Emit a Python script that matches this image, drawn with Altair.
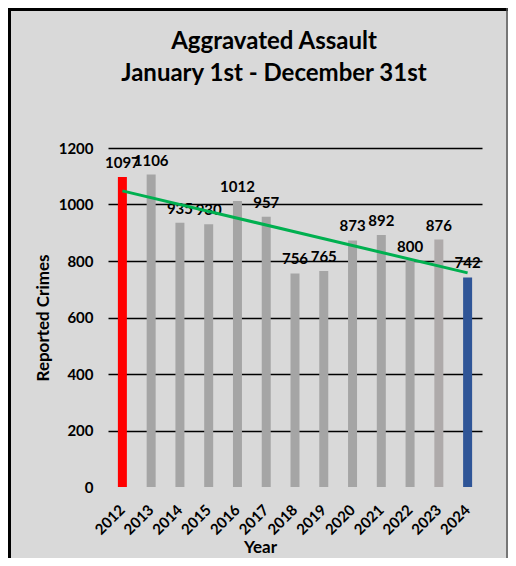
import altair as alt
import pandas as pd

years = [2012, 2013, 2014, 2015, 2016, 2017, 2018, 2019, 2020, 2021, 2022, 2023, 2024]
crimes = [1097, 1106, 935, 930, 1012, 957, 756, 765, 873, 892, 800, 876, 742]
bar_colors = ["#ff0000"] + ["#a5a5a5"] * 10 + ["#aeaaaa", "#2f5597"]
title_lines = ["Aggravated Assault", "January 1st - December 31st"]
y_ticks = [0, 200, 400, 600, 800, 1000, 1200]

df = pd.DataFrame({"Year": years, "Crimes": crimes})

FONT = "Lato"
W, H = 374, 339
PAD_L, PAD_T, PAD_R, PAD_B = 100, 140, 26, 71

x_enc = alt.X("Year:O", title="Year",
              scale=alt.Scale(paddingInner=0, paddingOuter=0),
              axis=alt.Axis(labelAngle=-45, labelAlign="right", labelBaseline="middle",
                            labelPadding=20, ticks=False, domain=False,
                            titleX=152, titleY=52, titleAlign="center",
                            titleBaseline="top"))
y_enc = alt.Y("Crimes:Q", title="Reported Crimes",
              scale=alt.Scale(domain=[0, 1200], nice=False),
              axis=alt.Axis(values=y_ticks, format="d", ticks=False, domain=False, labelPadding=15,
                            gridColor="black", gridWidth=1.5,
                            gridOpacity=alt.condition(alt.datum.value == 0, alt.value(0), alt.value(1)),
                            titlePadding=6))

base = alt.Chart(df)

bars = base.mark_bar(size=9).encode(
    x=x_enc, y=y_enc,
    color=alt.Color("Year:O", scale=alt.Scale(domain=years, range=bar_colors), legend=None),
)

labels = base.mark_text(dy=-9, baseline="alphabetic", font=FONT, fontWeight="bold",
                        fontSize=15, color="black").encode(
    x="Year:O", y="Crimes:Q", text="Crimes:Q"
)

trend = base.transform_regression("Year", "Crimes").mark_line(
    color="#00b050", strokeWidth=3
).encode(x="Year:O", y="Crimes:Q")

frame = alt.Chart(pd.DataFrame({"k": [0]}))
top_rule = frame.mark_rule(color="black", strokeWidth=4).encode(
    x=alt.value(-PAD_L), x2=alt.value(W + PAD_R), y=alt.value(-PAD_T + 1))
left_rule = frame.mark_rule(color="black", strokeWidth=4).encode(
    x=alt.value(-PAD_L + 1), y=alt.value(-PAD_T), y2=alt.value(H + PAD_B))
right_rule = frame.mark_rule(color="#555555", strokeWidth=1.5).encode(
    x=alt.value(W + PAD_R - 1), y=alt.value(-PAD_T), y2=alt.value(H + PAD_B))

chart = alt.layer(bars, labels, trend, top_rule, left_rule, right_rule).properties(
    width=W, height=H,
    title=alt.TitleParams(text=title_lines, font=FONT, fontSize=24, fontWeight="bold",
                          color="black", anchor="middle", dx=-21, lineHeight=32,
                          offset=-80),
    autosize=alt.AutoSizeParams(type="none"),
    padding={"left": PAD_L, "top": PAD_T, "right": PAD_R, "bottom": PAD_B},
    background="#d9d9d9",
).configure_view(stroke=None).configure_axis(
    labelFont=FONT, labelFontWeight="bold", labelFontSize=15, labelColor="black",
    titleFont=FONT, titleFontWeight="bold", titleFontSize=17, titleColor="black",
)

chart.save("out.html", embed_options={"renderer": "svg", "actions": False})
